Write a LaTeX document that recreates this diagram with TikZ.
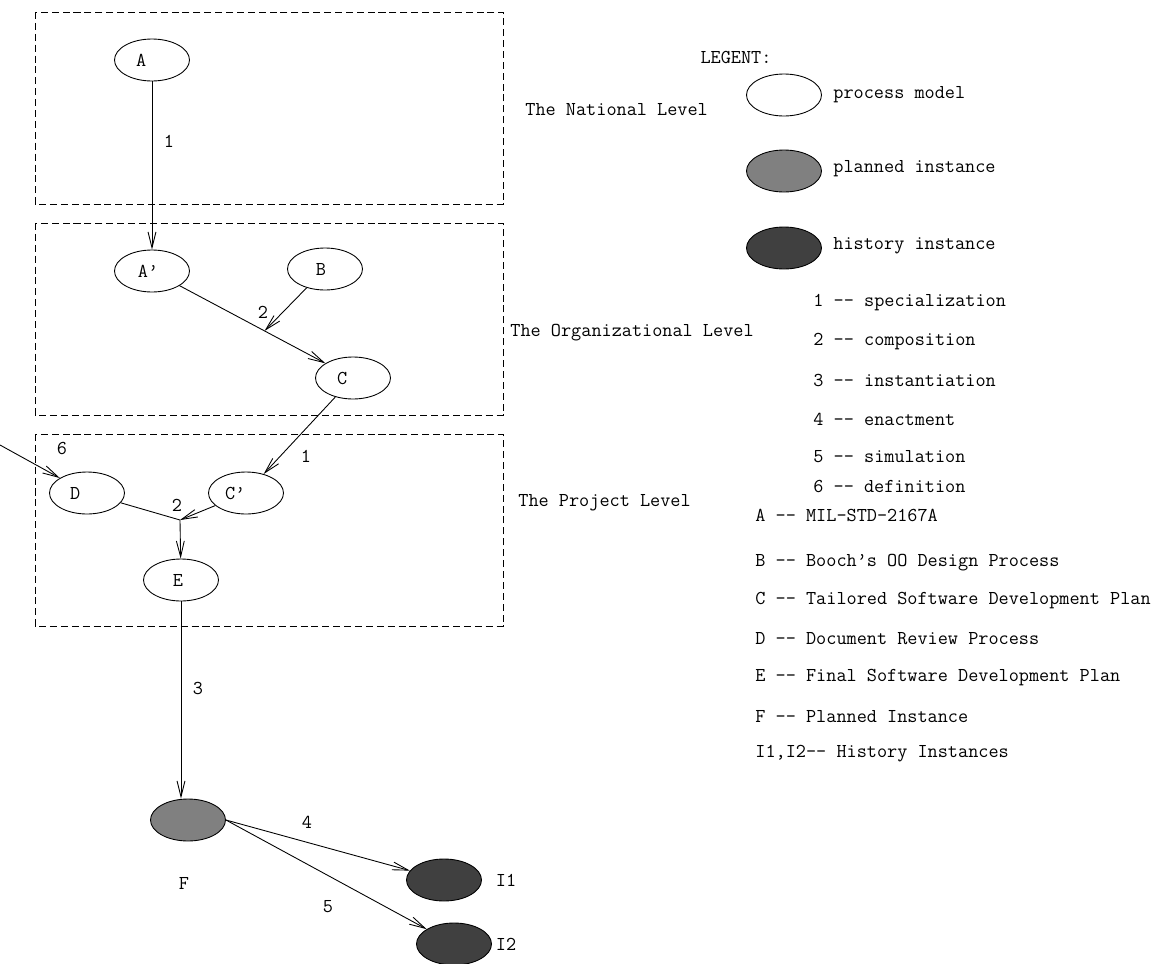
\documentclass[tikz,border=0pt]{standalone}
\usepackage{fontspec}
\usepackage{xcolor}
\usepackage{tikz}
\usetikzlibrary{shapes.geometric,arrows.meta,calc}

\definecolor{plangray}{gray}{0.5}
\definecolor{histgray}{gray}{0.25}
\tikzset{
	proc/.style={ellipse,draw,fill=white,minimum width=1.5cm,minimum height=0.84cm,inner sep=0pt},
	planned/.style={proc,fill=plangray},
	history/.style={proc,fill=histgray},
	levelbox/.style={draw,dash pattern=on 4pt off 2.2pt},
	lbl/.style={inner sep=0pt},
	legtext/.style={inner sep=0pt,anchor=west}
}

\begin{document}
\begin{tikzpicture}[x=0.02cm,y=-0.02cm,line width=0.5pt,font=\ttfamily\fontsize{11.2}{13}\selectfont]
		\useasboundingbox (0,0) rectangle (1164,964);
		% levels
		\draw[levelbox] (35,12) rectangle (503,204);
		\draw[levelbox] (35,223) rectangle (503,415);
		\draw[levelbox] (35,434) rectangle (503,626);
		\node[legtext] (natl) at (525,110) {The National Level};
		\node[legtext] (orgl) at (510,333) {The Organizational Level};
		\node[legtext] (prjl) at (518,503) {The Project Level};
		%
		\node[proc] (A) at (152,60) {A\kern1.1em};
		\node[proc] (A') at (152,271) {A’\kern0.4em};
		\node[proc] (B) at (325,269) {B\kern0.4em};
		\node[proc] (C) at (353,378) {C\kern1.1em};
		\node[proc] (D) at (87,493) {D\kern1.2em};
		\node[proc] (C') at (246,493) {C’\kern1.1em};
		\node[proc] (E) at (181,580) {E\kern0.3em};
		\node[planned] (F) at (188,820) {};
		\node[history] (I1) at (444,880) {};
		\node[history] (I2) at (454,944) {};
		\node[lbl] (Fn) at (184,883) {F};
		\node[lbl] (I1n) at (506,880) {I1};
		\node[lbl] (I2n) at (506,944) {I2};
		%
		\coordinate (j1) at ($(A')!0.56!(C)$);
		\coordinate (j2) at (180,520);
		\coordinate (src) at (0,445);
		%
		\path[->,>={Straight Barb[length=9pt,width=4.5pt]}]
		% between levels
		(A) edge (A')
		(C) edge (C')
		(E.south) edge (E.south |- F.north)
		% composition
		(A') edge (C)
		(B) edge (j1)
		(C') edge (j2)
		(j2) edge (E)
		% definition
		(src) edge (D)
		% enactment and simulation
		(F.east) edge (I1)
		(F.east) edge (I2);
		\draw (D) -- (j2);
		%
		\node[lbl] (n1a) at (169,141) {1};
		\node[lbl] (n2a) at (263,312) {2};
		\node[lbl] (n1b) at (306,456) {1};
		\node[lbl] (n6) at (62,448) {6};
		\node[lbl] (n2b) at (177,505) {2};
		\node[lbl] (n3) at (198,688) {3};
		\node[lbl] (n4) at (307,822) {4};
		\node[lbl] (n5) at (328,907) {5};
		% legend
		\node[lbl] (leg) at (736,57) {LEGENT:};
		\node[proc] (lp) at (784,95) {};
		\node[planned] (lpl) at (784,171) {};
		\node[history] (lh) at (784,248) {};
		\node[legtext] at (833,95) {process model};
		\node[legtext] at (833,169) {planned instance};
		\node[legtext] at (833,246) {history instance};
		\node[legtext] (r1) at (813,303) {1 -- specialization};
		\node[legtext] (r2) at (813,342) {2 -- composition};
		\node[legtext] (r3) at (813,380) {3 -- instantiation};
		\node[legtext] (r4) at (813,419) {4 -- enactment};
		\node[legtext] (r5) at (813,457) {5 -- simulation};
		\node[legtext] (r6) at (813,486) {6 -- definition};
		\node[legtext] (kA) at (755,515) {A -- MIL-STD-2167A};
		\node[legtext] (kB) at (755,563) {B -- Booch’s OO Design Process};
		\node[legtext] (kC) at (755,601) {C -- Tailored Software Development Plan};
		\node[legtext] (kD) at (755,639) {D -- Document Review Process};
		\node[legtext] (kE) at (755,678) {E -- Final Software Development Plan};
		\node[legtext] (kF) at (755,717) {F -- Planned Instance};
		\node[legtext] (kI) at (755,754) {I1,I2-- History Instances};
	\end{tikzpicture}
\end{document}
